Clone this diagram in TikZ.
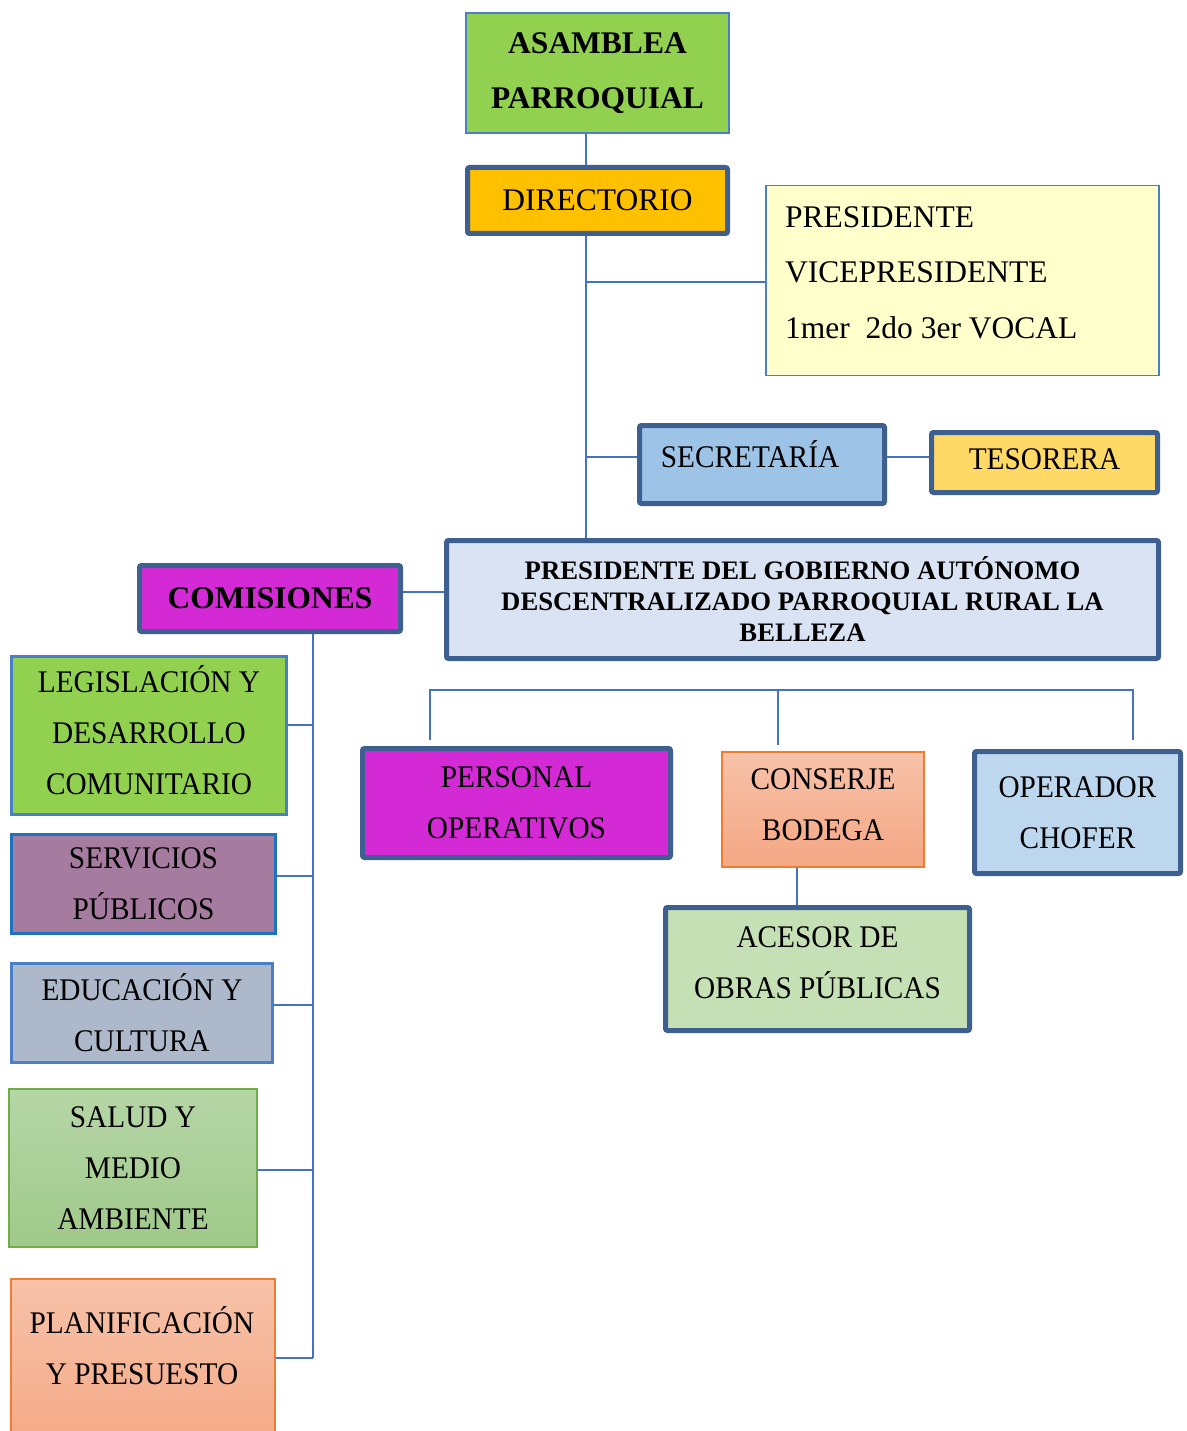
\documentclass[tikz,border=0pt]{standalone}
\usepackage{fontspec}
\setmainfont{Liberation Serif}
\newfontfamily\condensada[FakeStretch=0.93]{Liberation Serif}

\definecolor{borde}{HTML}{3E6090}
\definecolor{conector}{HTML}{4472C4}
\definecolor{azulfino}{HTML}{4A7EC6}
\definecolor{azulserv}{HTML}{1F70C0}
\definecolor{verde}{HTML}{92D050}
\definecolor{naranja}{HTML}{FFC000}
\definecolor{amarillo}{HTML}{FFFFCC}
\definecolor{celeste}{HTML}{9DC3E6}
\definecolor{oro}{HTML}{FFD966}
\definecolor{lila}{HTML}{DAE3F3}
\definecolor{magenta}{HTML}{D42AD6}
\definecolor{morado}{HTML}{A67BA0}
\definecolor{gris}{HTML}{ADB9CA}
\definecolor{verdeclaro}{HTML}{C5E0B4}
\definecolor{azulclaro}{HTML}{BDD7EE}
\definecolor{salmon}{HTML}{ED7D31}
\definecolor{salmonarriba}{HTML}{F7C2A9}
\definecolor{salmonabajo}{HTML}{F4A784}
\definecolor{pasto}{HTML}{70AD47}
\definecolor{pastoarriba}{HTML}{B6D6A6}
\definecolor{pastoabajo}{HTML}{9FC98A}

\tikzset{
  letra/.style={font=\fontsize{31.5}{51}\selectfont, align=center, text=black},
  estrecha/.style={letra, font=\condensada\fontsize{31.5}{51}\selectfont},
  gruesa/.style={estrecha, draw=borde, line width=5pt, rounded corners=2pt},
  fina/.style={estrecha, line width=2pt},
  salmonada/.style={fina, draw=salmon, top color=salmonarriba, bottom color=salmonabajo},
  linea/.style={draw=conector, line width=1.5pt},
}

\begin{document}
\begin{tikzpicture}[x=1pt, y=-1pt]
    \useasboundingbox (0,0) rectangle (1186,1431);
    \clip (0,0) rectangle (1186,1431);

    \node[fina, draw=azulfino, fill=verde, minimum width=263pt, minimum height=120pt, font=\bfseries\fontsize{31.5}{55}\selectfont] (asamblea) at (597.5,73) {ASAMBLEA\\PARROQUIAL};
    \node[gruesa, fill=naranja, minimum width=260pt, minimum height=66pt, font=\fontsize{31.5}{51}\selectfont] (directorio) at (597.5,200.5) {DIRECTORIO};
    \node[fina, draw=azulfino, line width=1.5pt, fill=amarillo, minimum width=393pt, minimum height=190pt] (cargos) at (962.5,280.5) {};
    \node[letra, align=left, anchor=north west, inner sep=0pt, font=\fontsize{31.5}{55.5}\selectfont] (cargos-txt) at (785,206) {PRESIDENTE\\VICEPRESIDENTE\\1mer\ \ 2do 3er VOCAL};
    \node[gruesa, fill=celeste, minimum width=245pt, minimum height=78pt] (secretaria) at (762,464.5) {};
    \node[estrecha, anchor=base] (secretaria-txt) at (750,467) {SECRETARÍA};
    \node[gruesa, fill=oro, minimum width=226pt, minimum height=60pt] (tesorera) at (1044.5,462.5) {};
    \node[estrecha, yshift=3pt] (tesorera-txt) at (tesorera) {TESORERA};
    \node[gruesa, fill=lila, minimum width=712pt, minimum height=118pt, font=\bfseries\fontsize{26.7}{31}\selectfont] (presidente) at (802.5,599.5) {PRESIDENTE DEL GOBIERNO AUTÓNOMO\\DESCENTRALIZADO PARROQUIAL RURAL LA\\BELLEZA};
    \node[gruesa, fill=magenta, minimum width=261pt, minimum height=66pt, font=\bfseries\fontsize{31.5}{51}\selectfont] (comisiones) at (270,598.5) {COMISIONES};

    % comisiones
    \node[fina, line width=3pt, draw=azulfino, fill=verde, minimum width=275pt, minimum height=158pt] (legislacion) at (149,735.5) {};
    \node[estrecha, yshift=5pt] (legislacion-txt) at (legislacion) {LEGISLACIÓN Y\\DESARROLLO\\COMUNITARIO};
    \node[fina, line width=3pt, draw=azulserv, fill=morado, minimum width=264pt, minimum height=99pt] (servicios) at (143.5,884) {SERVICIOS\\PÚBLICOS};
    \node[fina, line width=3pt, draw=azulfino, fill=gris, minimum width=261pt, minimum height=99pt] (educacion) at (142,1013) {EDUCACIÓN Y\\CULTURA};
    \node[fina, draw=pasto, top color=pastoarriba, bottom color=pastoabajo, minimum width=248pt, minimum height=158pt] (salud) at (133,1168) {SALUD Y\\MEDIO\\AMBIENTE};
    \node[salmonada, minimum width=264pt, minimum height=180pt] (planificacion) at (143,1369) {};
    \node[estrecha] (planificacion-txt) at (142,1346) {PLANIFICACIÓN\\Y PRESUESTO};

    % personal
    \node[gruesa, fill=magenta, minimum width=308pt, minimum height=109pt] (personal) at (516.5,803) {PERSONAL\\OPERATIVOS};
    \node[salmonada, minimum width=202pt, minimum height=115pt] (conserje) at (823,809.5) {};
    \node[estrecha, yshift=5pt] (conserje-txt) at (conserje) {CONSERJE\\BODEGA};
    \node[gruesa, fill=verdeclaro, minimum width=304pt, minimum height=123pt] (acesor) at (817.5,969) {};
    \node[estrecha, yshift=6.5pt] (acesor-txt) at (acesor) {ACESOR DE\\OBRAS PÚBLICAS};
    \node[gruesa, fill=azulclaro, minimum width=206pt, minimum height=122pt] (operador) at (1077.5,812.5) {OPERADOR\\CHOFER};

    % lineas
    \coordinate (tronco) at (586,282);
    \coordinate (rama-sec) at (586,457);
    \coordinate (rama-com) at (420,592);
    \draw[linea] (asamblea.south -| tronco) -- (directorio.north -| tronco);
    \draw[linea] (directorio.south -| tronco) -- (presidente.north -| tronco);
    \draw[linea] (tronco) -- (cargos.west |- tronco);
    \draw[linea] (rama-sec) -- (secretaria.west |- rama-sec);
    \draw[linea] (secretaria.east |- rama-sec) -- (tesorera.west |- rama-sec);
    \draw[linea] (comisiones.east |- rama-com) -- (presidente.west |- rama-com);

    \coordinate (eje) at (313,1358);
    \coordinate (r-legis) at (313,725);
    \coordinate (r-serv) at (313,876);
    \coordinate (r-edu) at (313,1005);
    \coordinate (r-salud) at (313,1170);
    \draw[linea] (comisiones.south -| eje) -- (eje);
    \draw[linea] (legislacion.east |- r-legis) -- (r-legis);
    \draw[linea] (servicios.east |- r-serv) -- (r-serv);
    \draw[linea] (educacion.east |- r-edu) -- (r-edu);
    \draw[linea] (salud.east |- r-salud) -- (r-salud);
    \draw[linea] (planificacion.east |- eje) -- (eje);

    \coordinate (bus-a) at (430,690);
    \coordinate (bus-b) at (778,690);
    \coordinate (bus-c) at (1133,690);
    \draw[linea] ([yshift=6pt]bus-a |- personal.north) -- (bus-a) -- (bus-c) -- ([yshift=9pt]bus-c |- operador.north);
    \draw[linea] (bus-b) -- ([yshift=6pt]bus-b |- conserje.north);
    \draw[linea] ([xshift=-20.5pt]acesor.north) -- ([xshift=-20.5pt]acesor.north |- conserje.south);
\end{tikzpicture}
\end{document}
